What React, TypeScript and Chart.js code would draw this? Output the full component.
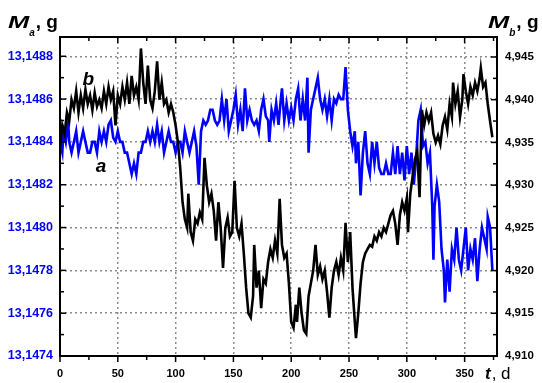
import React, { useEffect, useRef } from "react";
import { Chart, registerables } from "chart.js";

Chart.register(...registerables);

// ---- Data ----
const daysA = [0,2,3,5,7,8,10,12,14,16,18,20,22,24,26,28,30,32,34,36,38,40,42,44,46,48,50,52,54,56,58,60,62,64,66,68,70,72,74,76,78,80,82,84,86,88,90,92,94,96,98,100,102,104,106,108,110,112,114,116,118,120,122,124,126,128,130,132,134,136,138,140,142,144,146,148,150,152,154,156,158,160,162,164,166,168,170,172,174,176,178,180,181,183,185,187,189,191,192,194,196,198,200,202,204,206,208,210,212,214,215,217,219,221,223,225,227,229,231,233,235,237,239,241,243,245,247,249,251,253,255,256,258,260,262,264,266,268,270,272,274,276,278,280,282,284,286,288,290,292,294,296,298,300,302,304,306,308,310,312,314,316,318,320,322,323,324,326,328,330,332,333,335,337,339,341,343,345,347,349,351,353,355,357,359,361,363,365,367,369,370,372,374];
const massA = [13.14840,13.14835,13.14845,13.14840,13.14850,13.14840,13.14835,13.14840,13.14845,13.14835,13.14840,13.14845,13.14840,13.14835,13.14835,13.14840,13.14840,13.14835,13.14845,13.14840,13.14845,13.14840,13.14848,13.14850,13.14842,13.14840,13.14845,13.14840,13.14840,13.14835,13.14835,13.14830,13.14825,13.14830,13.14825,13.14835,13.14835,13.14840,13.14840,13.14845,13.14840,13.14845,13.14840,13.14848,13.14840,13.14845,13.14835,13.14840,13.14845,13.14840,13.14840,13.14835,13.14840,13.14840,13.14835,13.14845,13.14840,13.14835,13.14840,13.14845,13.14838,13.14820,13.14845,13.14850,13.14848,13.14850,13.14855,13.14855,13.14850,13.14848,13.14850,13.14860,13.14850,13.14860,13.14845,13.14850,13.14855,13.14862,13.14848,13.14855,13.14845,13.14865,13.14850,13.14855,13.14850,13.14848,13.14850,13.14845,13.14855,13.14860,13.14852,13.14850,13.14840,13.14855,13.14850,13.14858,13.14848,13.14860,13.14865,13.14850,13.14858,13.14850,13.14856,13.14850,13.14860,13.14865,13.14850,13.14860,13.14850,13.14870,13.14835,13.14855,13.14860,13.14865,13.14870,13.14860,13.14855,13.14860,13.14852,13.14860,13.14850,13.14860,13.14858,13.14862,13.14860,13.14860,13.14875,13.14855,13.14845,13.14838,13.14845,13.14830,13.14840,13.14815,13.14835,13.14845,13.14830,13.14825,13.14840,13.14830,13.14840,13.14828,13.14825,13.14825,13.14830,13.14825,13.14825,13.14835,13.14825,13.14838,13.14825,13.14835,13.14822,13.14838,13.14825,13.14835,13.14820,13.14832,13.14850,13.14855,13.14838,13.14840,13.14830,13.14835,13.14810,13.14785,13.14810,13.14820,13.14812,13.14790,13.14780,13.14765,13.14785,13.14770,13.14790,13.14785,13.14800,13.14785,13.14780,13.14790,13.14800,13.14780,13.14790,13.14785,13.14795,13.14775,13.14790,13.14800,13.14795,13.14790,13.14805,13.14800,13.14780];

const daysB = [0,2,4,6,8,10,12,14,16,18,20,22,24,26,28,30,32,34,36,38,40,42,44,46,48,50,52,54,56,58,60,62,64,66,68,70,72,74,76,78,80,82,84,86,88,90,92,94,96,98,100,102,104,106,108,110,111,113,115,117,119,121,123,125,127,129,131,133,135,137,139,141,143,145,147,149,151,153,155,157,159,161,163,165,167,168,170,172,174,176,178,180,182,184,186,188,190,192,194,196,198,200,202,204,205,207,209,211,213,215,217,219,221,223,225,227,229,231,233,235,237,239,241,243,245,247,249,251,253,255,256,258,260,262,264,266,268,270,272,274,276,278,280,282,284,286,288,290,292,294,296,298,300,301,303,305,307,309,311,313,315,317,319,321,323,325,327,329,331,333,335,337,339,340,342,344,346,348,349,351,353,355,357,359,361,363,364,366,368,370,372,374];
const massB = [4.9345,4.9370,4.9360,4.9385,4.9375,4.9400,4.9390,4.9410,4.9385,4.9405,4.9390,4.9412,4.9395,4.9405,4.9388,4.9408,4.9392,4.9400,4.9390,4.9410,4.9395,4.9415,4.9400,4.9410,4.9370,4.9405,4.9395,4.9415,4.9400,4.9420,4.9395,4.9428,4.9405,4.9415,4.9400,4.9460,4.9420,4.9395,4.9440,4.9400,4.9390,4.9410,4.9445,4.9400,4.9420,4.9395,4.9400,4.9385,4.9395,4.9385,4.9370,4.9350,4.9320,4.9280,4.9260,4.9250,4.9290,4.9245,4.9235,4.9260,4.9255,4.9268,4.9260,4.9332,4.9300,4.9280,4.9290,4.9270,4.9235,4.9280,4.9250,4.9203,4.9250,4.9262,4.9240,4.9245,4.9305,4.9250,4.9240,4.9255,4.9220,4.9180,4.9150,4.9145,4.9170,4.9230,4.9180,4.9200,4.9156,4.9190,4.9185,4.9210,4.9225,4.9215,4.9235,4.9220,4.9284,4.9230,4.9215,4.9220,4.9185,4.9140,4.9133,4.9160,4.9140,4.9180,4.9150,4.9130,4.9126,4.9170,4.9185,4.9200,4.9230,4.9195,4.9205,4.9190,4.9200,4.9175,4.9145,4.9180,4.9200,4.9210,4.9195,4.9215,4.9200,4.9256,4.9210,4.9245,4.9180,4.9140,4.9121,4.9150,4.9185,4.9210,4.9220,4.9225,4.9230,4.9228,4.9240,4.9235,4.9245,4.9240,4.9250,4.9245,4.9255,4.9265,4.9270,4.9255,4.9230,4.9265,4.9280,4.9270,4.9285,4.9245,4.9290,4.9310,4.9330,4.9340,4.9286,4.9388,4.9370,4.9385,4.9375,4.9385,4.9360,4.9350,4.9358,4.9348,4.9370,4.9380,4.9365,4.9395,4.9380,4.9420,4.9395,4.9410,4.9380,4.9400,4.9430,4.9410,4.9395,4.9415,4.9405,4.9420,4.9410,4.9425,4.9437,4.9415,4.9420,4.9395,4.9375,4.9356];

const xTickValues = [0, 50, 100, 150, 200, 250, 300, 350];
const xTickLabels = ["0", "50", "100", "150", "200", "250", "300", "350"];
const yATickValues = [13.1474, 13.1476, 13.1478, 13.148, 13.1482, 13.1484, 13.1486, 13.1488];
const yATickLabels = ["13,1474", "13,1476", "13,1478", "13,1480", "13,1482", "13,1484", "13,1486", "13,1488"];
const yBTickValues = [4.91, 4.915, 4.92, 4.925, 4.93, 4.935, 4.94, 4.945];
const yBTickLabels = ["4,910", "4,915", "4,920", "4,925", "4,930", "4,935", "4,940", "4,945"];

const X_MAX = 378;
const YA_MIN = 13.1474, YA_MAX = 13.14889;
const YB_MIN = 4.91, YB_MAX = 4.94734;

const FONT = "'Liberation Sans', Arial, sans-serif";
const BLUE = "#0000ff";

const framePlugin = {
  id: "framePlugin",
  afterDatasetsDraw(chart: any) {
    const { ctx, chartArea: a, scales } = chart;
    const sx = scales.x, sa = scales.yA, sb = scales.yB;
    ctx.save();
    ctx.strokeStyle = "#000";
    ctx.lineWidth = 1.5;
    const line = (x1: number, y1: number, x2: number, y2: number) => {
      ctx.beginPath(); ctx.moveTo(x1, y1); ctx.lineTo(x2, y2); ctx.stroke();
    };
    // x ticks: bottom outward, top inward
    const xs: [number, number][] = [];
    xTickValues.forEach((v, i) => {
      xs.push([v, 6]);
      const next = i < xTickValues.length - 1 ? xTickValues[i + 1] : v + (v - xTickValues[i - 1]);
      const mid = (v + next) / 2;
      if (mid <= X_MAX) xs.push([mid, 4]);
    });
    xs.forEach(([v, len]) => {
      const px = sx.getPixelForValue(v);
      line(px, a.bottom, px, a.bottom + len);
      line(px, a.top, px, a.top + len);
    });
    // left ticks
    yATickValues.forEach((v, i) => {
      const py = sa.getPixelForValue(v);
      line(a.left, py, a.left + 6, py);
      if (i < yATickValues.length - 1) {
        const m = sa.getPixelForValue((v + yATickValues[i + 1]) / 2);
        line(a.left, m, a.left + 4, m);
      }
    });
    // right ticks
    yBTickValues.forEach((v, i) => {
      const py = sb.getPixelForValue(v);
      line(a.right, py, a.right - 6, py);
      if (i < yBTickValues.length - 1) {
        const m = sb.getPixelForValue((v + yBTickValues[i + 1]) / 2);
        line(a.right, m, a.right - 4, m);
      }
    });
    // frame
    ctx.lineWidth = 2;
    ctx.strokeRect(a.left, a.top, a.right - a.left, a.bottom - a.top);

    // curve labels
    ctx.fillStyle = "#000";
    ctx.textAlign = "center";
    ctx.textBaseline = "alphabetic";
    ctx.font = `italic bold 19px ${FONT}`;
    ctx.fillText("b", sx.getPixelForValue(24.5), sb.getPixelForValue(4.9417));
    ctx.fillText("a", sx.getPixelForValue(35.5), sa.getPixelForValue(13.14826));

    // axis titles
    ctx.textAlign = "left";
    const title = (x: number, sub: string) => {
      ctx.font = `italic bold 17px ${FONT}`;
      const sc = 1.5;
      const mw = ctx.measureText("M").width * sc;
      ctx.save();
      ctx.translate(x, 28);
      ctx.scale(sc, 1);
      ctx.fillText("M", 0, 0);
      ctx.restore();
      ctx.font = `italic bold 10px ${FONT}`;
      const sw = ctx.measureText(sub).width;
      ctx.fillText(sub, x + mw, 36);
      ctx.font = `bold 19px ${FONT}`;
      ctx.fillText(", g", x + mw + sw + 1, 28);
    };
    title(8, "a");
    title(488, "b");
    ctx.font = `italic bold 17px ${FONT}`;
    ctx.fillText("t", 485, 379);
    const tw = ctx.measureText("t").width;
    ctx.font = `17px ${FONT}`;
    ctx.fillText(", d", 485 + tw + 1, 379);
    ctx.restore();
  },
};

export default function App() {
  const ref = useRef<HTMLCanvasElement | null>(null);
  useEffect(() => {
    if (!ref.current) return;
    const chart = new Chart(ref.current, {
      type: "line",
      data: {
        datasets: [
          {
            label: "b",
            data: daysB.map((d, i) => ({ x: d, y: massB[i] })),
            borderColor: "#000",
            borderWidth: 2.6,
            pointRadius: 0,
            tension: 0,
            yAxisID: "yB",
            xAxisID: "x",
            order: 0,
          },
          {
            label: "a",
            data: daysA.map((d, i) => ({ x: d, y: massA[i] })),
            borderColor: BLUE,
            borderWidth: 2.6,
            pointRadius: 0,
            tension: 0,
            yAxisID: "yA",
            xAxisID: "x",
            order: 1,
          },
        ],
      },
      options: {
        animation: false,
        responsive: false,
        maintainAspectRatio: false,
        layout: { padding: { top: 37, left: 0, right: 0, bottom: 0 } },
        plugins: { legend: { display: false }, tooltip: { enabled: false } },
        scales: {
          x: {
            type: "linear",
            min: 0,
            max: X_MAX,
            afterBuildTicks: (s: any) => { s.ticks = xTickValues.map((v) => ({ value: v })); },
            afterFit: (s: any) => { s.height = 27; },
            ticks: {
              callback: (_v: any, i: number) => xTickLabels[i],
              color: "#000",
              font: { family: FONT, size: 11, weight: "bold" },
              padding: 11,
              maxRotation: 0,
              autoSkip: false,
            },
            grid: { color: "#8a8a8a", lineWidth: 1.5, drawTicks: false },
            border: { display: false, dash: [2, 3] },
          },
          yA: {
            type: "linear",
            position: "left",
            min: YA_MIN,
            max: YA_MAX,
            afterBuildTicks: (s: any) => { s.ticks = yATickValues.map((v) => ({ value: v })); },
            afterFit: (s: any) => { s.width = 60; },
            ticks: {
              callback: (_v: any, i: number) => yATickLabels[i],
              color: BLUE,
              font: { family: FONT, size: 12.5, weight: "bold" },
              padding: 7,
              autoSkip: false,
            },
            grid: { color: "#8a8a8a", lineWidth: 1.5, drawTicks: false },
            border: { display: false, dash: [2, 3] },
          },
          yB: {
            type: "linear",
            position: "right",
            min: YB_MIN,
            max: YB_MAX,
            afterBuildTicks: (s: any) => { s.ticks = yBTickValues.map((v) => ({ value: v })); },
            afterFit: (s: any) => { s.width = 45; },
            ticks: {
              callback: (_v: any, i: number) => yBTickLabels[i],
              color: "#000",
              font: { family: FONT, size: 11.5, weight: "bold" },
              padding: 8,
              autoSkip: false,
            },
            grid: { display: false, drawTicks: false },
            border: { display: false },
          },
        },
      },
      plugins: [framePlugin],
    });
    return () => chart.destroy();
  }, []);
  return (
    <div style={{ position: "fixed", left: 0, top: 0, width: 542, height: 383, background: "#fff" }}>
      <canvas ref={ref} width={542} height={383} style={{ width: 542, height: 383, display: "block" }} />
    </div>
  );
}
